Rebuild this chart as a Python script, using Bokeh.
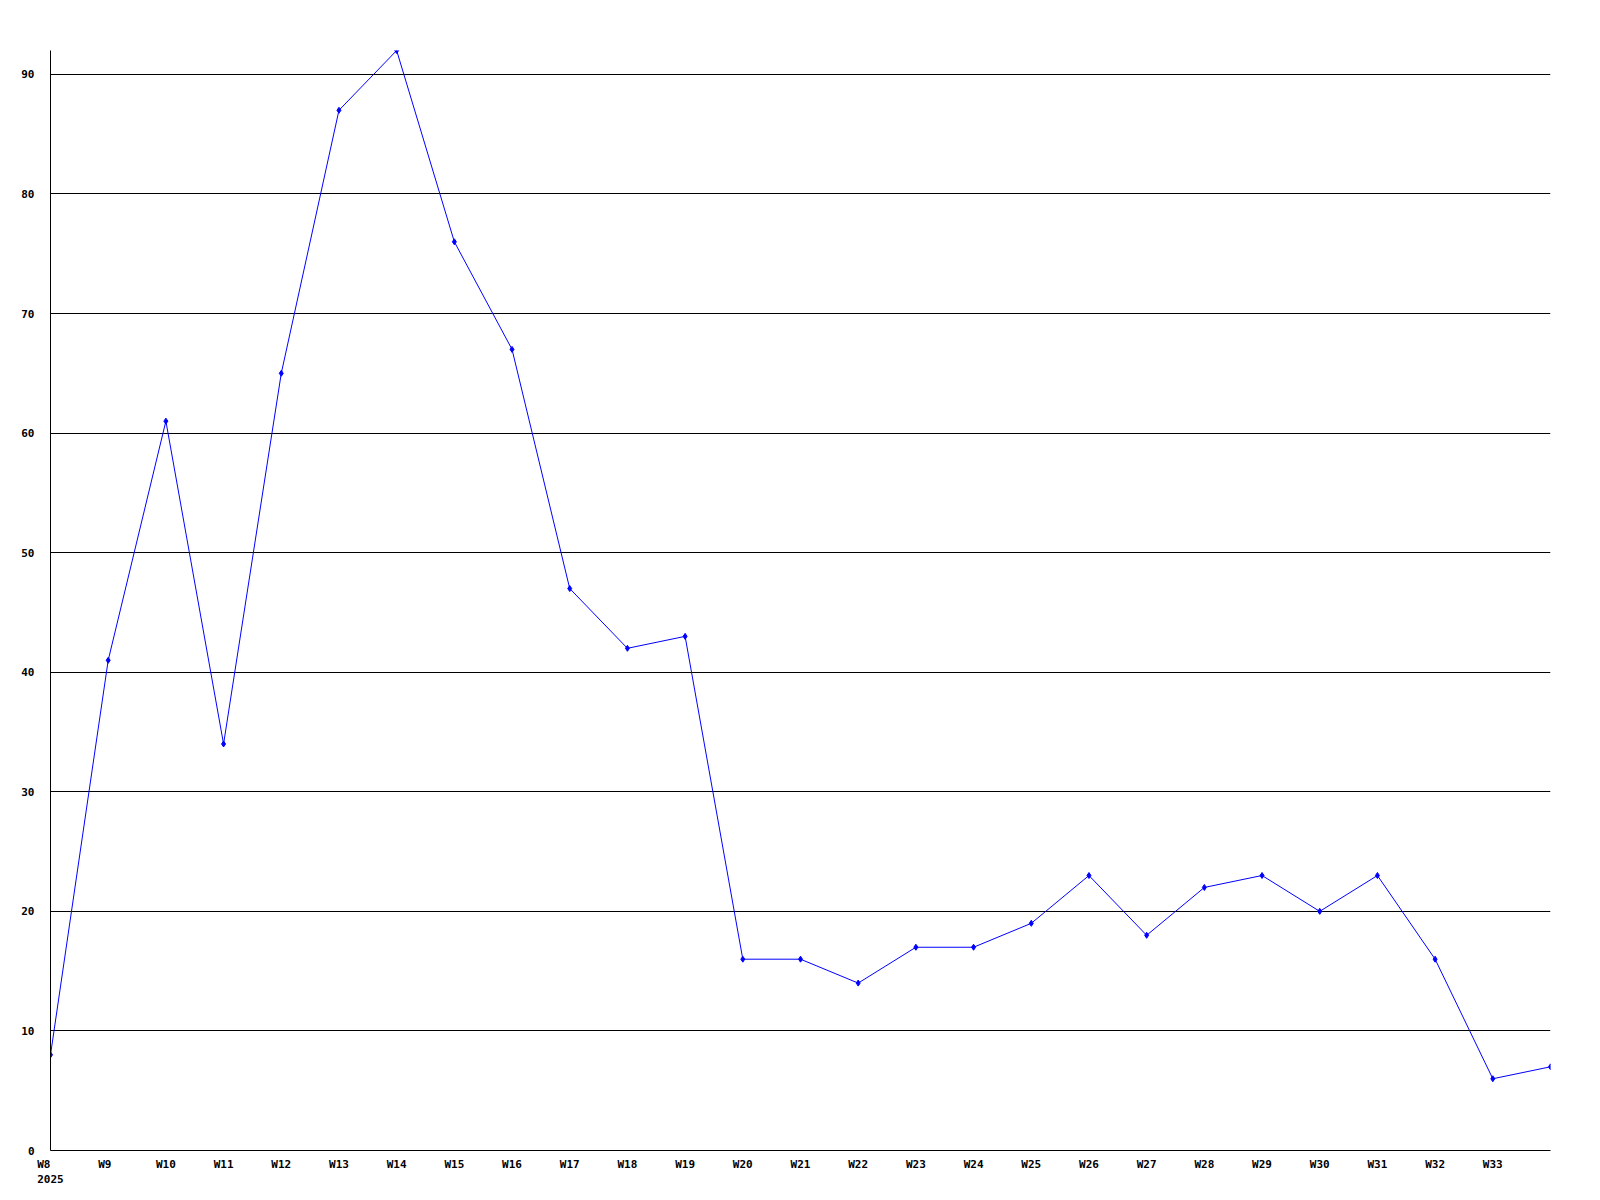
from bokeh.plotting import figure
from bokeh.models import Range1d, FixedTicker
from bokeh.embed import file_html
from bokeh.resources import INLINE

weeks = ["W8", "W9", "W10", "W11", "W12", "W13", "W14", "W15", "W16", "W17", "W18",
         "W19", "W20", "W21", "W22", "W23", "W24", "W25", "W26", "W27", "W28", "W29",
         "W30", "W31", "W32", "W33", "W34"]
values = [8, 41, 61, 34, 65, 87, 92, 76, 67, 47, 42, 43, 16, 16, 14, 17, 17, 19, 23,
          18, 22, 23, 20, 23, 16, 6, 7]
year_label = "2025"
y_ticks = [0, 10, 20, 30, 40, 50, 60, 70, 80, 90]

xs = list(range(len(weeks)))

p = figure(frame_width=1500, frame_height=1100, output_backend="svg", toolbar_location=None,
           x_range=Range1d(0, len(weeks) - 1), y_range=Range1d(0, max(values)),
           min_border_left=50, min_border_top=50, min_border_right=34, min_border_bottom=34)
p.outline_line_color = None
p.background_fill_color = "white"
p.border_fill_color = "white"

p.line(xs, values, line_color="#0000ff", line_width=1)
p.scatter(xs, values, marker="diamond", size=6, fill_color="#0000ff", line_color="#0000ff")

p.xgrid.visible = False
p.ygrid.ticker = FixedTicker(ticks=y_ticks[1:])
p.ygrid.grid_line_color = "black"
p.ygrid.grid_line_width = 1
p.ygrid.grid_line_alpha = 1

for ax in (p.xaxis[0], p.yaxis[0]):
    ax.axis_line_color = "black"
    ax.axis_line_width = 1
    ax.major_tick_in = 0
    ax.major_tick_out = 0
    ax.minor_tick_in = 0
    ax.minor_tick_out = 0
    ax.major_label_text_font = "DejaVu Sans Mono"
    ax.major_label_text_font_style = "bold"
    ax.major_label_text_font_size = "11px"
    ax.major_label_text_color = "black"

p.yaxis[0].ticker = FixedTicker(ticks=y_ticks)
p.yaxis[0].major_label_standoff = 16

label_ticks = xs[:-1]
p.xaxis[0].ticker = FixedTicker(ticks=label_ticks)
overrides = {}
for i in label_ticks:
    lab = weeks[i].ljust(3)
    if i == 0:
        lab = weeks[i].ljust(4) + "\n" + year_label
    overrides[i] = lab
p.xaxis[0].major_label_overrides = overrides
p.xaxis[0].major_label_standoff = 7

open("out.html", "w").write(file_html(p, INLINE))
